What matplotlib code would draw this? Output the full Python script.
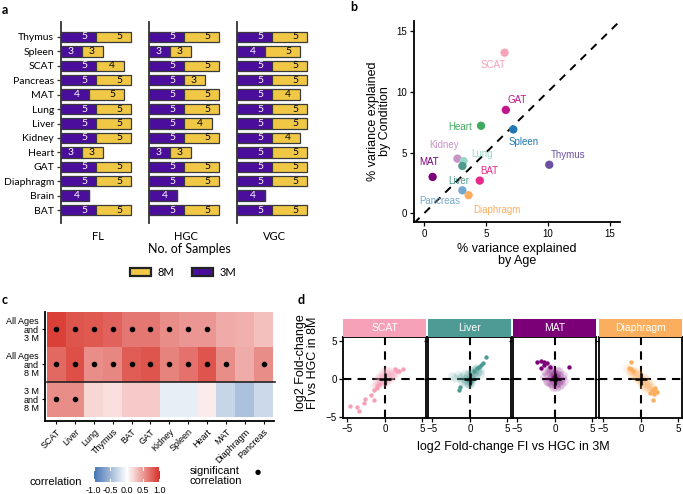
import matplotlib
matplotlib.use("Agg")
import matplotlib.pyplot as plt
import numpy as np
from matplotlib.colors import LinearSegmentedColormap

# ---------------- data ----------------
# panel a
organs_a = ['BAT', 'Brain', 'Diaphragm', 'GAT', 'Heart', 'Kidney', 'Liver', 'Lung',
            'MAT', 'Pancreas', 'SCAT', 'Spleen', 'Thymus']
groups_a = ['FL', 'HGC', 'VGC']
fl_3m = [5, 4, 5, 5, 3, 5, 5, 5, 4, 5, 5, 3, 5]
fl_8m = [5, 0, 5, 5, 3, 5, 5, 5, 5, 5, 4, 3, 5]
hgc_3m = [5, 4, 5, 5, 3, 5, 5, 5, 5, 5, 5, 3, 5]
hgc_8m = [5, 0, 5, 5, 3, 5, 4, 5, 5, 3, 5, 3, 5]
vgc_3m = [5, 4, 5, 5, 5, 5, 5, 5, 5, 5, 5, 4, 5]
vgc_8m = [5, 0, 5, 5, 5, 4, 5, 5, 4, 5, 5, 5, 5]

# panel b
organs_b = ['SCAT', 'GAT', 'Heart', 'Spleen', 'Thymus', 'Kidney', 'Lung', 'Liver',
            'MAT', 'BAT', 'Pancreas', 'Diaphragm']
var_age = [6.5, 6.6, 4.6, 7.2, 10.1, 2.7, 3.2, 3.1, 0.7, 4.5, 3.1, 3.6]
var_cond = [13.2, 8.5, 7.2, 6.9, 4.0, 4.5, 4.3, 3.9, 3.0, 2.7, 1.9, 1.5]
label_x = [5.6, 7.5, 2.95, 8.05, 11.65, 1.65, 4.65, 2.8, 0.4, 5.3, 1.3, 5.9]
label_y = [12.2, 9.3, 7.1, 5.9, 4.8, 5.6, 4.9, 2.7, 4.2, 3.5, 1.0, 0.3]
colors_b = ['#F7A3B8', '#C2178A', '#41AB5D', '#1F78B4', '#6A51A3', '#C994C7',
            '#99D8C9', '#4E9A8E', '#7A0177', '#E7298A', '#74A9CF', '#FDAE61']

# panel c
organs_c = ['SCAT', 'Liver', 'Lung', 'Thymus', 'BAT', 'GAT', 'Kidney', 'Spleen',
            'Heart', 'MAT', 'Diaphragm', 'Pancreas']
rows_c = ['All Ages\nand\n3 M', 'All Ages\nand\n8 M', '3 M\nand\n8 M']
corr_3m = [0.92, 0.82, 0.80, 0.75, 0.65, 0.65, 0.55, 0.50, 0.50, 0.40, 0.38, 0.30]
corr_8m = [0.72, 0.85, 0.55, 0.58, 0.78, 0.82, 0.60, 0.68, 0.82, 0.55, 0.40, 0.55]
corr_3m8m = [0.55, 0.55, 0.20, 0.15, 0.25, 0.25, -0.12, -0.12, 0.10, -0.30, -0.45, -0.28]
sig_3m = [1, 1, 1, 1, 1, 1, 1, 1, 1, 0, 0, 0]
sig_8m = [1, 1, 1, 1, 1, 1, 1, 1, 1, 1, 0, 1]
sig_3m8m = [1, 1, 0, 0, 0, 0, 0, 0, 0, 0, 0, 0]

# panel d
facets_d = ['SCAT', 'Liver', 'MAT', 'Diaphragm']
facet_colors = ['#F7A1B8', '#4E9A94', '#7B0077', '#FBAE5D']
scat_cloud_x = [-1.5, -1.1, -0.8, -0.6, -0.5, -0.3, -0.2, -0.1, 0.0, 0.1, 0.3, 0.4, 0.5, 0.7, 0.8,
                1.0, 1.3, -0.7, -0.4, 0.2, 0.6, -1.0, 0.9, 0.1, -0.3, 0.4, -1.2, 1.1, 0.0, -0.5,
                0.2, -0.2, 1.5, -0.9]
scat_cloud_y = [-1.1, -0.7, -0.5, -0.6, 0.2, -0.3, 0.4, 0.0, 0.3, -0.2, 0.5, 0.1, 0.7, 0.4, 0.9,
                0.7, 1.1, 0.3, 0.6, -0.4, 0.0, -0.3, 0.3, 0.8, -0.5, 1.0, -0.8, 0.5, -0.3, -0.1,
                1.2, 0.9, 0.8, 0.1]
scat_out_x = [-4.6, -3.7, -3.4, -2.8, -2.7, -1.9, -1.4, -1.4, -1.1, -1.0, -0.8, 1.3, 1.9, 2.4, 1.6]
scat_out_y = [-3.5, -3.7, -4.2, -3.1, -2.6, -2.1, -2.8, -1.4, -1.2, -0.9, -0.6, 1.3, 1.0, 1.3, 1.1]
liver_cloud_x = [-2.4, -2.0, -1.6, -1.3, -1.0, -0.8, -0.6, -0.4, -0.3, -0.2, -0.1, 0.0, 0.1, 0.2, 0.3,
                 0.4, 0.5, 0.7, 0.9, 1.1, 1.3, -0.5, 0.2, 0.0, -0.3, 0.6, 1.0, 0.3, -0.1, 0.1,
                 -1.1, -0.7, 0.8, 1.4]
liver_cloud_y = [0.4, 0.2, 0.5, 0.1, 0.3, 0.6, 0.0, 0.2, -0.4, 0.5, -0.6, -0.2, 0.1, 0.7, 0.3,
                 0.5, 0.9, 0.4, 0.8, 1.0, 0.7, -0.3, -0.5, 0.3, 0.7, 1.2, 1.3, 0.0, -0.7, 1.0,
                 -0.2, -0.5, 1.5, 1.1]
liver_out_x = [2.1, 1.7, 1.5, 1.2, 0.9, -1.5, -1.3, 0.5, 0.0, -0.1, 0.1, -0.2]
liver_out_y = [2.9, 2.1, 1.8, 1.6, 1.4, -1.4, -1.1, 1.0, -0.3, 0.0, -0.2, -0.1]
mat_cloud_x = [-1.5, -1.1, -0.9, -0.7, -0.5, -0.4, -0.3, -0.2, -0.1, 0.0, 0.1, 0.2, 0.3, 0.4, 0.5,
               0.7, 0.9, 1.1, -0.8, -0.2, 0.3, 0.8, -0.4, 0.1, -1.0, 0.5, 0.0, -0.6, 0.2, -0.1,
               -1.3, 0.6, -0.5, 1.2]
mat_cloud_y = [0.3, 0.6, -0.4, 0.9, 0.1, -0.7, 0.5, 1.0, -0.2, 0.3, -0.6, 0.7, 0.1, -0.4, 0.5,
               -0.1, 0.2, 0.5, 1.2, -1.0, 1.0, -0.7, 0.3, -1.1, -0.2, 1.1, 0.6, -0.5, 0.0, 0.2,
               1.0, -0.9, 1.4, -0.3]
mat_out_x = [-2.4, -1.8, -1.4, -1.1, -1.8, -1.4, -0.7, 1.9, -0.3, 0.0, -0.1, 0.2]
mat_out_y = [2.2, 2.4, 2.3, 2.1, 1.5, 1.9, 1.6, 1.6, 0.2, -0.1, 0.3, 0.1]
diaph_cloud_x = [-1.8, -1.4, -1.1, -0.9, -0.7, -0.5, -0.3, -0.2, 0.0, 0.1, 0.2, 0.4, 0.5, 0.7, 0.9,
                 1.1, 1.3, 1.5, -0.6, 0.3, 0.8, -1.0, 1.0, 0.0, -0.2, 0.6, 1.2, -1.2, 0.3, 1.7,
                 -1.5, -0.4, 0.6, 1.4]
diaph_cloud_y = [1.4, 1.1, 0.9, 1.0, 0.6, 0.7, 0.2, 0.5, 0.0, -0.1, -0.3, -0.2, -0.7, -0.4, -0.8,
                 -1.0, -1.1, -1.4, 0.1, 0.3, -1.1, 0.5, -0.5, -0.5, -0.1, -1.3, -1.5, 1.2, -0.9, -1.7,
                 0.8, 0.9, 0.1, -0.6]
diaph_out_x = [-1.6, -1.3, -1.0, 1.7, 2.1, 1.6, 1.2, 1.9, 1.5, 1.8, -1.3]
diaph_out_y = [1.4, 1.3, 1.0, -1.4, -1.7, -2.8, -1.9, -1.2, -1.5, -2.0, 2.3]

# ---------------- figure ----------------
W, H = 683, 494
fig = plt.figure(figsize=(W / 100, H / 100), dpi=100)
fig.patch.set_facecolor('white')
SANS = ['Liberation Sans', 'DejaVu Sans']
LATO = ['Lato', 'DejaVu Sans']


def ax_px(x0, y0, x1, y1):
    return fig.add_axes([x0 / W, 1 - y1 / H, (x1 - x0) / W, (y1 - y0) / H])


def ftext(x, y, s, **kw):
    return fig.text(x / W, 1 - y / H, s, **kw)


# panel letters
ftext(2, 10, 'a', fontsize=9, fontweight='bold', family=LATO, va='center')
ftext(350, 7, 'b', fontsize=9, fontweight='bold', family=LATO, va='center')
ftext(2, 300, 'c', fontsize=9, fontweight='bold', family=LATO, va='center')
ftext(298, 300, 'd', fontsize=9, fontweight='bold', family=LATO, va='center')

# ---------------- panel a ----------------
PURPLE = '#4B0E9C'
YELLOW = '#F1C846'
data_a = [(fl_3m, fl_8m), (hgc_3m, hgc_8m), (vgc_3m, vgc_8m)]
lefts = [61, 149, 237]
ypos = np.arange(len(organs_a))
for i, (grp, (n3, n8)) in enumerate(zip(groups_a, data_a)):
    ax = ax_px(lefts[i], 22, lefts[i] + 74, 223)
    ax.barh(ypos, n3, height=0.72, color=PURPLE, edgecolor='#3a3a3a', linewidth=0.9)
    ax.barh(ypos, n8, left=n3, height=0.72, color=YELLOW, edgecolor='#3a3a3a', linewidth=0.9)
    for y, a, b in zip(ypos, n3, n8):
        if a > 0:
            ax.text(a - 1.7, y, str(a), color='white', fontsize=7.5, ha='center', va='center',
                    family=LATO)
        if b > 0:
            ax.text(a + b - 1.7, y, str(b), color='black', fontsize=7.5, ha='center', va='center',
                    family=LATO)
    ax.set_xlim(0, 10.55)
    ax.set_ylim(-0.9, 13.04)
    for s in ['top', 'right', 'bottom']:
        ax.spines[s].set_visible(False)
    ax.spines['left'].set_color('#333333')
    ax.spines['left'].set_linewidth(1.3)
    ax.set_xticks([])
    ax.set_facecolor('none')
    if i == 0:
        ax.set_yticks(ypos)
        ax.set_yticklabels(organs_a, fontsize=7.5, family=LATO)
        ax.tick_params(axis='y', length=3, width=0.9, color='#333333', pad=2)
    else:
        ax.set_yticks([])
    ftext(lefts[i] + 37, 236, grp, fontsize=8, family=LATO, ha='center', va='center')
ftext(189, 249, 'No. of Samples', fontsize=9, family=LATO, ha='center', va='center')
# legend
for (x0, col, lab) in [(130, YELLOW, '8M'), (192, PURPLE, '3M')]:
    lax = ax_px(x0, 268, x0 + 21, 276)
    lax.set_xlim(0, 1)
    lax.set_ylim(0, 1)
    lax.add_patch(plt.Rectangle((0, 0), 1, 1, facecolor=col, edgecolor='#222222', linewidth=1.6,
                                clip_on=False))
    lax.axis('off')
    ftext(x0 + 28, 272, lab, fontsize=8, family=LATO, ha='left', va='center')

# ---------------- panel b ----------------
axb = ax_px(414, 21, 620, 222)
axb.set_xlim(-0.8, 15.8)
axb.set_ylim(-0.7, 15.8)
axb.plot([-0.8, 15.8], [-0.8, 15.8], ls=(0, (4, 3.5)), color='black', lw=1.4, zorder=1)
axb.scatter(var_age, var_cond, s=36, c=colors_b, zorder=3, linewidths=0)
for name, lx, ly, col in zip(organs_b, label_x, label_y, colors_b):
    axb.text(lx, ly, name, color=col, fontsize=7, ha='center', va='center', family=SANS)
for s in ['top', 'right']:
    axb.spines[s].set_visible(False)
for s in ['left', 'bottom']:
    axb.spines[s].set_linewidth(1.3)
axb.set_xticks([0, 5, 10, 15])
axb.set_yticks([0, 5, 10, 15])
axb.tick_params(labelsize=7, length=3, width=0.9, pad=2)
for t in axb.get_xticklabels() + axb.get_yticklabels():
    t.set_family(SANS)
axb.set_xlabel('% variance explained\nby Age', fontsize=9, family=SANS, labelpad=3, linespacing=1.0)
axb.set_ylabel('% variance explained\nby Condition', fontsize=9, family=SANS, labelpad=4,
               linespacing=1.0)

# ---------------- panel c ----------------
cmap = LinearSegmentedColormap.from_list('rb', ['#4575B4', '#FFFFFF', '#D73027'])
axc = ax_px(45, 312, 274, 421)
mat = np.array([corr_3m8m, corr_8m, corr_3m])
sig = np.array([sig_3m8m, sig_8m, sig_3m])
xs = np.arange(len(organs_c) + 1) - 0.5
ys = np.arange(4) - 0.5
axc.pcolormesh(xs, ys, mat, cmap=cmap, vmin=-1, vmax=1, shading='flat')
yy, xx = np.nonzero(sig)
axc.scatter(xx, yy, s=9, color='black', zorder=3)
axc.plot([-0.5, 11.6], [0.5, 0.5], color='#222222', lw=1.2, zorder=4, clip_on=False)
axc.set_xlim(-0.59, 11.55)
axc.set_ylim(-0.615, 2.5)
for s in ['top', 'right']:
    axc.spines[s].set_visible(False)
for s in ['left', 'bottom']:
    axc.spines[s].set_linewidth(1.3)
axc.set_xticks(np.arange(len(organs_c)))
axc.set_xticklabels(organs_c, rotation=45, ha='right', va='top', rotation_mode='anchor',
                    fontsize=6.5, family=SANS)
axc.set_yticks([2, 1, 0])
axc.set_yticklabels(rows_c, fontsize=6.5, family=SANS, linespacing=0.95)
axc.tick_params(length=2.5, width=0.8, pad=2)
# colorbar
axcb = ax_px(91, 467, 162, 482)
grad = np.linspace(-1, 1, 256).reshape(1, -1)
axcb.imshow(grad, aspect='auto', cmap=cmap, vmin=-1, vmax=1, extent=(-1, 1, 0, 1))
for v in [-1, -0.5, 0, 0.5, 1]:
    axcb.plot([v, v], [0, 0.2], color='white', lw=0.8)
    axcb.plot([v, v], [0.8, 1], color='white', lw=0.8)
axcb.set_xlim(-1.08, 1.08)
axcb.set_ylim(0, 1)
for s in axcb.spines.values():
    s.set_visible(False)
axcb.set_yticks([])
axcb.set_xticks([-1, -0.5, 0, 0.5, 1])
axcb.set_xticklabels(['-1.0', '-0.5', '0.0', '0.5', '1.0'], fontsize=6.5, family=SANS)
axcb.tick_params(length=0, pad=3)
ftext(29, 482, 'correlation', fontsize=8, family=SANS, ha='left', va='center')
ftext(190, 476, 'significant\ncorrelation', fontsize=8, family=SANS, ha='left', va='center',
      linespacing=0.95)
ftext(258, 472, '\u25cf', fontsize=5, ha='center', va='center', family=['DejaVu Sans'])

# ---------------- panel d ----------------
clouds = [(scat_cloud_x, scat_cloud_y, scat_out_x, scat_out_y),
          (liver_cloud_x, liver_cloud_y, liver_out_x, liver_out_y),
          (mat_cloud_x, mat_cloud_y, mat_out_x, mat_out_y),
          (diaph_cloud_x, diaph_cloud_y, diaph_out_x, diaph_out_y)]
dl = [343, 428, 513, 599]
for i, (name, col, (cx, cy, ox, oy)) in enumerate(zip(facets_d, facet_colors, clouds)):
    x0 = dl[i]
    axd = ax_px(x0, 337, x0 + 83, 418)
    axd.axhline(0, color='black', lw=1.5, ls=(0, (4, 3)), zorder=1)
    axd.axvline(0, color='black', lw=1.5, ls=(0, (4, 3)), zorder=1)
    axd.scatter(cx, cy, s=40, color=col, alpha=0.15, linewidths=0, zorder=2)
    axd.scatter(ox, oy, s=10, color=col, alpha=1, linewidths=0, zorder=3)
    axd.plot([0], [0], marker='+', ms=9, mew=1.8, color='black', zorder=5)
    axd.set_xlim(-5.6, 5.47)
    axd.set_ylim(-5.13, 5.53)
    for s in axd.spines.values():
        s.set_linewidth(1.3)
    axd.set_xticks([-5, 0, 5])
    axd.set_yticks([-5, 0, 5])
    axd.tick_params(labelsize=7, length=3, width=0.9, pad=1.5)
    for t in axd.get_xticklabels() + axd.get_yticklabels():
        t.set_family(SANS)
    if i > 0:
        axd.tick_params(axis='y', labelleft=False)
    # strip
    sax = ax_px(x0, 319, x0 + 83, 336.5)
    sax.set_facecolor(col)
    sax.set_xticks([])
    sax.set_yticks([])
    for s in sax.spines.values():
        s.set_visible(False)
    sax.text(0.5, 0.48, name, color='white', fontsize=7.5, ha='center', va='center',
             transform=sax.transAxes, family=SANS)
ftext(513, 447, 'log2 Fold-change FI vs HGC in 3M', fontsize=9, family=SANS, ha='center',
      va='center')
ftext(307, 363, 'log2 Fold-change\nFI vs HGC in 8M', fontsize=9, family=SANS, ha='center',
      va='center', rotation=90, linespacing=1.0)

fig.savefig('out.png', dpi=100, facecolor='white')
